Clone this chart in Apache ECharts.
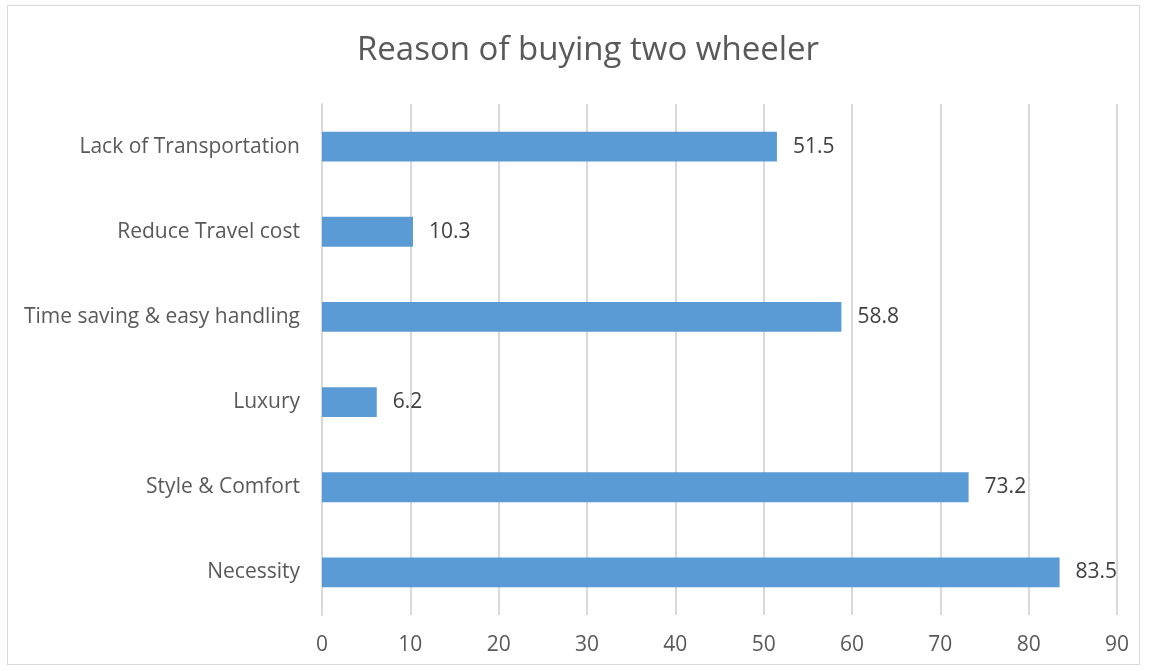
<!DOCTYPE html>
<html>
<head>
<meta charset="utf-8">
<script src="https://cdn.jsdelivr.net/npm/echarts@6/dist/echarts.min.js"></script>
<style>
  html, body { margin: 0; padding: 0; background: #fff; }
  #frame { position: absolute; left: 7px; top: 5px; width: 1133px; height: 660px; border: 1px solid #d9d9d9; box-sizing: border-box; }
  #chart { position: absolute; left: 0; top: 0; width: 1149px; height: 671px; }
</style>
</head>
<body>
<div id="frame"></div>
<div id="chart"></div>
<script>
// Reasons listed bottom-to-top as they appear on the category axis
const categories = ['Necessity', 'Style & Comfort', 'Luxury', 'Time saving & easy handling', 'Reduce Travel cost', 'Lack of Transportation'];
const percentages = [83.5, 73.2, 6.2, 58.8, 10.3, 51.5];
const xTicks = [0, 10, 20, 30, 40, 50, 60, 70, 80, 90];

const fontFamily = '"Open Sans", sans-serif';
const chart = echarts.init(document.getElementById('chart'));
chart.setOption({
  animation: false,
  title: {
    text: 'Reason of buying two wheeler',
    left: 583,
    textAlign: 'center',
    top: 29,
    textStyle: { fontFamily, fontSize: 33, fontWeight: 'normal', color: '#595959' }
  },
  grid: { left: 322, right: 32, top: 104, bottom: 56, containLabel: false },
  xAxis: {
    type: 'value',
    min: xTicks[0],
    max: xTicks[xTicks.length - 1],
    interval: 10,
    axisLine: { show: false },
    axisTick: { show: false },
    splitLine: { show: true, lineStyle: { color: '#d9d9d9', width: 2 } },
    axisLabel: { fontFamily, fontSize: 21, color: '#595959', margin: 20 }
  },
  yAxis: {
    type: 'category',
    data: categories,
    axisLine: { show: true, lineStyle: { color: '#d9d9d9', width: 2 } },
    axisTick: { show: false },
    axisLabel: { fontFamily, fontSize: 21, color: '#595959', margin: 22 }
  },
  series: [{
    type: 'bar',
    data: percentages,
    barWidth: '35%',
    itemStyle: { color: '#5B9BD5' },
    label: {
      show: true,
      position: 'right',
      distance: 16,
      fontFamily,
      fontSize: 21,
      color: '#404040'
    }
  }]
});
</script>
</body>
</html>
